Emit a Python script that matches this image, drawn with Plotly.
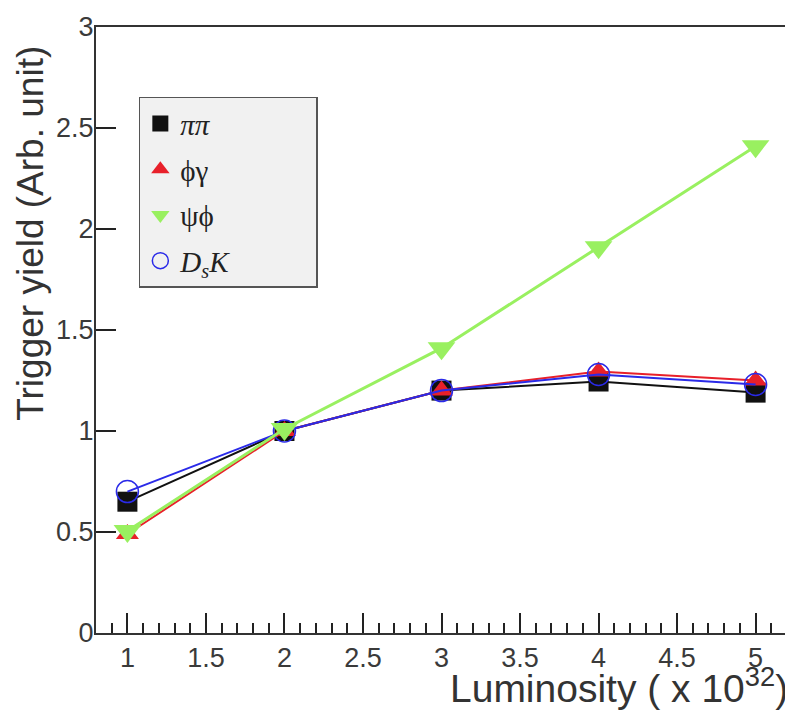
import plotly.graph_objects as go

luminosity = [1, 2, 3, 4, 5]
pipi = [0.65, 1.00, 1.20, 1.245, 1.19]
phigamma = [0.49, 1.00, 1.20, 1.295, 1.25]
psiphi = [0.505, 1.01, 1.41, 1.91, 2.41]
dsk = [0.70, 1.00, 1.20, 1.28, 1.23]

x_ticks = [1, 1.5, 2, 2.5, 3, 3.5, 4, 4.5, 5]
x_ticklabels = ["1", "1.5", "2", "2.5", "3", "3.5", "4", "4.5", "5"]
y_ticks = [0, 0.5, 1, 1.5, 2, 2.5, 3]
y_ticklabels = ["0", "0.5", "1", "1.5", "2", "2.5", "3"]

names = ["<i>ππ</i>", "ϕγ", "ψϕ", "<i>D<sub>s</sub>K</i>"]

BLACK, RED, GREEN, BLUE = "#111111", "#e8202a", "#99f060", "#2a2ae8"
PAD = "&nbsp;" * 14

fig = go.Figure()

# data traces (drawn order: black, red, blue, green)
fig.add_trace(go.Scatter(
    x=luminosity, y=pipi, mode="lines+markers", showlegend=False,
    line=dict(color=BLACK, width=2),
    marker=dict(symbol="square", size=20, color=BLACK)))
fig.add_trace(go.Scatter(
    x=luminosity, y=phigamma, mode="lines+markers", showlegend=False,
    line=dict(color=RED, width=2),
    marker=dict(symbol="triangle-up", size=20, color=RED)))
fig.add_trace(go.Scatter(
    x=luminosity, y=dsk, mode="lines+markers", showlegend=False,
    line=dict(color=BLUE, width=2),
    marker=dict(symbol="circle-open", size=22, color=BLUE, line=dict(width=1.5))))
fig.add_trace(go.Scatter(
    x=luminosity, y=psiphi, mode="lines+markers", showlegend=False,
    line=dict(color=GREEN, width=3),
    marker=dict(symbol="triangle-down", size=24, color=GREEN)))

# legend entries (marker only, as in the reference)
legend_specs = [
    (names[0] + PAD, dict(symbol="square", size=20, color=BLACK)),
    (names[1], dict(symbol="triangle-up", size=20, color=RED)),
    (names[2], dict(symbol="triangle-down", size=22, color=GREEN)),
    (names[3], dict(symbol="circle-open", size=22, color=BLUE, line=dict(width=1.5))),
]
for i, (nm, mk) in enumerate(legend_specs):
    fig.add_trace(go.Scatter(
        x=[None], y=[None], mode="markers", name=nm, marker=mk,
        legendgroup=f"g{i}", legendrank=i + 1, showlegend=True))

tick_font = dict(family="Liberation Sans, Arial, sans-serif", size=27, color="#3a3a3a")

fig.update_layout(
    width=785, height=703,
    margin=dict(l=88, r=4, t=13, b=78),
    paper_bgcolor="white", plot_bgcolor="white",
    showlegend=True,
    legend=dict(
        x=0.062, y=0.885, xanchor="left", yanchor="top",
        bgcolor="#f1f1f1", bordercolor="#555555", borderwidth=1.5,
        font=dict(family="Liberation Serif, Times New Roman, serif", size=29, color="#222222"),
        tracegroupgap=5, itemsizing="trace", traceorder="grouped",
    ),
    xaxis=dict(
        range=[0.8, 5.2], tickvals=x_ticks, ticktext=x_ticklabels,
        ticks="inside", ticklen=20, tickwidth=1.5, tickcolor="#222",
        minor=dict(dtick=0.1, tick0=0, ticks="inside", ticklen=10, tickwidth=1.5, tickcolor="#222"),
        showline=True, linecolor="#333", linewidth=2, mirror=True,
        showgrid=False, zeroline=False, tickfont=tick_font, ticklabeloverflow="allow",
    ),
    yaxis=dict(
        range=[0, 3], tickvals=y_ticks, ticktext=y_ticklabels,
        ticks="inside", ticklen=20, tickwidth=1.5, tickcolor="#222",
        showline=True, linecolor="#333", linewidth=2, mirror=True,
        showgrid=False, zeroline=False, tickfont=tick_font,
        ticklabeloverflow="allow", ticklabelstandoff=-5,
    ),
    annotations=[
        dict(text="Luminosity ( x 10<sup>32</sup>)", xref="paper", yref="paper",
             x=1.005, y=-0.131, xanchor="right", yanchor="bottom", showarrow=False,
             font=dict(family="Liberation Sans, Arial, sans-serif", size=39, color="#333333")),
        dict(text="Trigger yield (Arb. unit)", xref="paper", yref="paper",
             x=-0.0952, y=0.972, xanchor="center", yanchor="top", textangle=-90, showarrow=False,
             font=dict(family="Liberation Sans, Arial, sans-serif", size=37, color="#333333")),
    ],
)

fig.write_html("out.html")
